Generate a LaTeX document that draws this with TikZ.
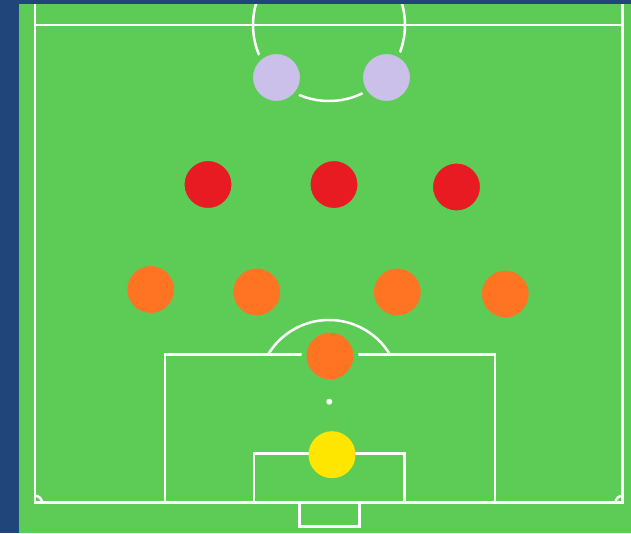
\documentclass[tikz,border=0pt]{standalone}
\definecolor{navy}{RGB}{31,69,122}
\definecolor{grass}{RGB}{92,204,86}
\definecolor{keeper}{RGB}{255,230,0}
\definecolor{backs}{RGB}{255,116,34}
\definecolor{mids}{RGB}{232,26,34}
\definecolor{strikers}{RGB}{202,192,234}
\tikzset{
  pitchline/.style={draw=white, line width=2.5pt},
  player/.style={circle, fill=#1, draw=grass, line width=5pt, minimum size=52pt, inner sep=0pt},
  goalie/.style={circle, fill=#1, minimum size=47pt, inner sep=0pt},
}
\begin{document}
\begin{tikzpicture}[x=1pt,y=-1pt]
\useasboundingbox (0,0) rectangle (631,533);
\fill[navy] (0,0) rectangle (631,533);
\fill[grass] (19,4) rectangle (631,533);

% field lines
\draw[pitchline] (35,4) -- (35,502.7) -- (622.5,502.7) -- (622.5,4);
\draw[pitchline] (35,25) -- (622.5,25);
\draw[pitchline] (165,502.7) -- (165,354.3) -- (495,354.3) -- (495,502.7);
\draw[pitchline] (254,502.7) -- (254,453.3) -- (404.3,453.3) -- (404.3,502.7);
\draw[pitchline] (299.3,502.7) -- (299.3,526.7) -- (359.3,526.7) -- (359.3,502.7);
\begin{scope}
\clip (19,4) rectangle (631,354.3);
\draw[pitchline] (329,25) circle (76);
\draw[pitchline] (329,391) circle (71);
\end{scope}
\begin{scope}
\clip (35,4) rectangle (622.5,502.7);
\draw[pitchline] (35,502.7) circle (7);
\draw[pitchline] (622.5,502.7) circle (7);
\end{scope}
\fill[white] (329.3,401.7) circle (3);

% players
\node[goalie=keeper] (gk) at (332,454.7) {};
\node[player=backs] (sw) at (330,356) {};
\node[player=backs] (lb) at (150.7,289.5) {};
\node[player=backs] (lcb) at (256.7,292) {};
\node[player=backs] (rcb) at (397.3,292) {};
\node[player=backs] (rb) at (505.3,294) {};
\node[player=mids] (lm) at (208,184.5) {};
\node[player=mids] (cm) at (334,184.5) {};
\node[player=mids] (rm) at (456.5,187) {};
\node[player=strikers] (ls) at (276.5,77.5) {};
\node[player=strikers] (rs) at (386.5,77.5) {};
\end{tikzpicture}
\end{document}
